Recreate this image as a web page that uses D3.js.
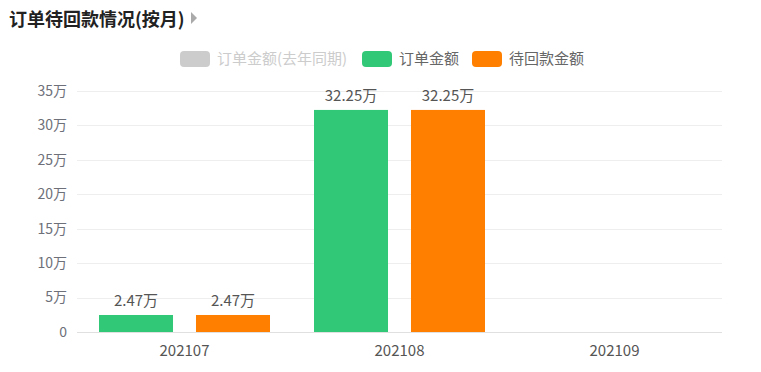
<!DOCTYPE html>
<html>
<head>
<meta charset="utf-8">
<script src="https://cdn.jsdelivr.net/npm/d3@7"></script>
<style>
  body { margin: 0; background: #fff; font-family: "Noto Sans CJK SC", "Noto Sans", sans-serif; }
  svg { display: block; }
</style>
</head>
<body>
<div id="chart"></div>
<script>
// Chart data
const months = ['202107', '202108', '202109'];
const seriesNames = ['订单金额(去年同期)', '订单金额', '待回款金额'];
const seriesColors = ['#cccccc', '#31c978', '#ff8000'];
// the last-year series is switched off in the legend, so it is not drawn
const seriesOn = [false, true, true];
const orderAmount = [24700, 322500, null];
const pendingAmount = [24700, 322500, null];
const yTicks = [0, 50000, 100000, 150000, 200000, 250000, 300000, 350000];

const width = 761;
const height = 372;
const margin = { top: 91, right: 39, bottom: 40, left: 77 };

const svg = d3.select('#chart')
  .append('svg')
  .attr('width', width)
  .attr('height', height);

// Title with the little grey arrow
svg.append('text')
  .attr('x', 9)
  .attr('y', 26)
  .attr('fill', '#222')
  .style('font-size', '18px')
  .style('font-weight', 'bold')
  .text('订单待回款情况(按月)');

svg.append('path')
  .attr('d', 'M191,12 L197,18 L191,24 Z')
  .attr('fill', '#aaa');

const x = d3.scaleBand()
  .domain(months)
  .range([margin.left, width - margin.right]);

const y = d3.scaleLinear()
  .domain([0, 350000])
  .range([height - margin.bottom, margin.top]);

const fmt = v => v === 0 ? '0' : `${v / 10000}万`;

// Gridlines
svg.append('g')
  .selectAll('line')
  .data(yTicks)
  .join('line')
  .attr('x1', margin.left)
  .attr('x2', width - margin.right)
  .attr('y1', d => Math.round(y(d)) + 0.5)
  .attr('y2', d => Math.round(y(d)) + 0.5)
  .attr('stroke', d => d === 0 ? '#e0e0e0' : '#eeeeee');

// Y labels
svg.append('g')
  .selectAll('text')
  .data(yTicks)
  .join('text')
  .attr('x', margin.left - 10)
  .attr('y', d => y(d))
  .attr('dy', '0.35em')
  .attr('text-anchor', 'end')
  .attr('fill', '#6e7079')
  .style('font-size', '14px')
  .text(fmt);

// X labels
svg.append('g')
  .selectAll('text')
  .data(months)
  .join('text')
  .attr('x', d => x(d) + x.bandwidth() / 2)
  .attr('y', height - margin.bottom + 24)
  .attr('text-anchor', 'middle')
  .attr('fill', '#555')
  .style('font-size', '15px')
  .text(d => d);

// Bars: two visible series inside each band
const inner = d3.scaleBand()
  .domain(['order', 'pending'])
  .range([22, x.bandwidth() - 22])
  .paddingInner(0.237);

const shown = [
  { key: 'order', values: orderAmount, color: seriesColors[1] },
  { key: 'pending', values: pendingAmount, color: seriesColors[2] }
];

shown.forEach(s => {
  const pts = months.map((m, i) => ({ m, v: s.values[i] })).filter(d => d.v != null);
  const g = svg.append('g');
  g.selectAll('rect')
    .data(pts)
    .join('rect')
    .attr('x', d => x(d.m) + inner(s.key))
    .attr('width', inner.bandwidth())
    .attr('y', d => y(d.v))
    .attr('height', d => y(0) - y(d.v))
    .attr('fill', s.color);
  g.selectAll('text')
    .data(pts)
    .join('text')
    .attr('x', d => x(d.m) + inner(s.key) + inner.bandwidth() / 2)
    .attr('y', d => y(d.v) - 9)
    .attr('text-anchor', 'middle')
    .attr('fill', '#555')
    .style('font-size', '15px')
    .text(d => `${(d.v / 10000).toFixed(2)}万`);
});

// Legend
const legendX = [180, 362, 472];
const legend = svg.append('g');
seriesNames.forEach((name, i) => {
  const g = legend.append('g').attr('transform', `translate(${legendX[i]}, 51)`);
  g.append('rect')
    .attr('width', 30)
    .attr('height', 16)
    .attr('rx', 4)
    .attr('fill', seriesOn[i] ? seriesColors[i] : '#cccccc');
  g.append('text')
    .attr('x', 37)
    .attr('y', 8)
    .attr('dy', '0.35em')
    .attr('fill', seriesOn[i] ? '#666' : '#cccccc')
    .style('font-size', '15px')
    .text(name);
});
</script>
</body>
</html>
